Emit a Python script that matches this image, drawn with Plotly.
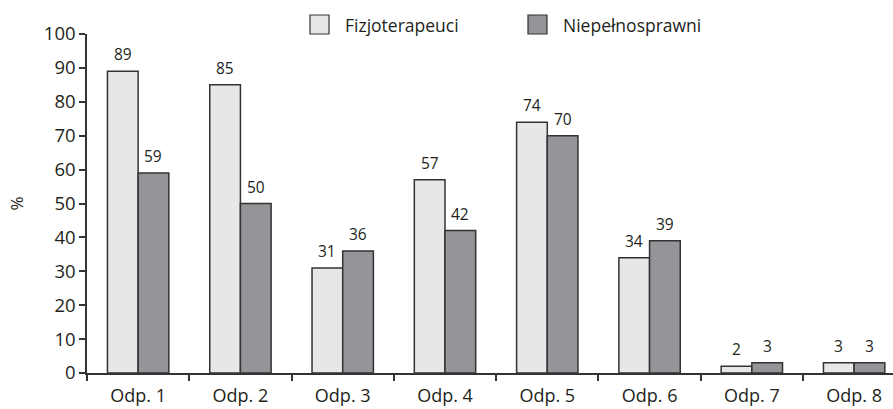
import plotly.graph_objects as go

categories = ["Odp. 1", "Odp. 2", "Odp. 3", "Odp. 4", "Odp. 5", "Odp. 6", "Odp. 7", "Odp. 8"]
fizjo = [89, 85, 31, 57, 74, 34, 2, 3]
niepel = [59, 50, 36, 42, 70, 39, 3, 3]
series_names = ["Fizjoterapeuci", "Niepełnosprawni"]
series_colors = ["#e6e7e8", "#939598"]
y_ticks = [0, 10, 20, 30, 40, 50, 60, 70, 80, 90, 100]

FONT = "Open Sans"
TXT = "#231f20"
EDGE = "#333333"

fig = go.Figure()
for name, vals, col in zip(series_names, [fizjo, niepel], series_colors):
    fig.add_bar(x=categories, y=vals, name=name, showlegend=False, hoverinfo="skip",
                marker=dict(color=col, line=dict(color=EDGE, width=1.5)))

for i, (a, b) in enumerate(zip(fizjo, niepel)):
    for off, v in ((-0.15, a), (0.15, b)):
        fig.add_annotation(x=i + off, y=v, text=str(v), showarrow=False,
                           xref="x", yref="y", yanchor="bottom", yshift=4,
                           font=dict(family=FONT, size=15.5, color=TXT))

# legend drawn as swatches + labels (paper coords)
L, PW, B, PH = 87, 806, 373, 339
leg_x = [310, 528]
for name, col, px in zip(series_names, series_colors, leg_x):
    fig.add_shape(type="rect", xref="paper", yref="paper",
                  x0=(px - L) / PW, x1=(px + 19 - L) / PW,
                  y0=(B - 34) / PH, y1=(B - 15) / PH,
                  fillcolor=col, line=dict(color=EDGE, width=1.2))
    fig.add_annotation(x=(px + 33 - L) / PW, y=(B - 25) / PH, xref="paper", yref="paper",
                       text=name, showarrow=False, xanchor="left", yanchor="middle",
                       font=dict(family=FONT, size=17.5, color=TXT))

fig.update_layout(
    width=893, height=409,
    margin=dict(l=87, r=0, t=34, b=36),
    plot_bgcolor="white", paper_bgcolor="white",
    barmode="group", bargap=0.4, bargroupgap=0,
    font=dict(family=FONT, size=17, color=TXT),
    showlegend=False,
    xaxis=dict(type="category", range=[-0.5, 7.38], automargin=False,
               showline=True, linecolor=EDGE,
               linewidth=1.5, ticks="outside", tickson="boundaries", ticklen=6,
               tickcolor=EDGE, tickwidth=1.5, showgrid=False, ticklabelstandoff=6,
               tickfont=dict(family=FONT, size=18, color=TXT)),
    yaxis=dict(range=[0, 100], tickvals=y_ticks, automargin=False,
               showline=True, linecolor=EDGE,
               linewidth=1.5, ticks="outside", ticklen=6, tickcolor=EDGE,
               tickwidth=1.5, showgrid=False, zeroline=False,
               title=dict(text="%", font=dict(family=FONT, size=17), standoff=16),
               tickfont=dict(family=FONT, size=18.5, color=TXT)),
)

fig.write_html("out.html", config={"displayModeBar": False},
               post_script="document.body.style.margin='0';document.body.style.overflow='hidden';")
